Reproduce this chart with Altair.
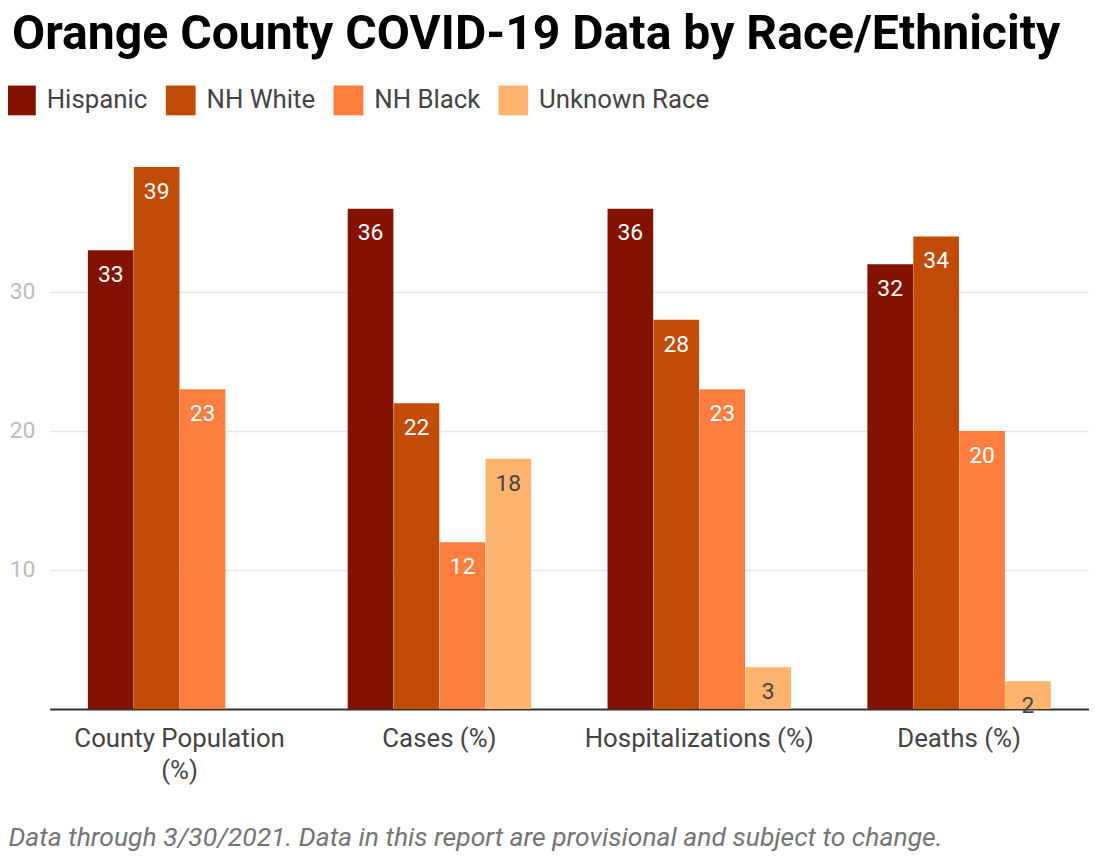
import altair as alt
import pandas as pd

categories = ["County Population (%)", "Cases (%)", "Hospitalizations (%)", "Deaths (%)"]
groups = ["Hispanic", "NH White", "NH Black", "Unknown Race"]
hispanic = [33, 36, 36, 32]
nh_white = [39, 22, 28, 34]
nh_black = [23, 12, 23, 20]
unknown = [None, 18, 3, 2]
colors = ["#841200", "#c24b07", "#fd7e3e", "#feb46e"]

title_text = "Orange County COVID-19 Data by Race/Ethnicity"
footer_text = "Data through 3/30/2021. Data in this report are provisional and subject to change."

rows = []
for series, vals in zip(groups, [hispanic, nh_white, nh_black, unknown]):
    for cat, v in zip(categories, vals):
        if v is not None:
            rows.append({"category": cat, "group": series, "value": v})
df = pd.DataFrame(rows)

x_enc = alt.X(
    "category:N",
    sort=categories,
    scale=alt.Scale(paddingInner=0.293, paddingOuter=0.1465),
    axis=alt.Axis(
        title=footer_text,
        titleFont="Roboto",
        titleFontSize=26.7,
        titleFontStyle="italic",
        titleFontWeight="normal",
        titleColor="#757575",
        titleAnchor="start",
        titleAlign="left",
        titleBaseline="middle",
        titleX=-42,
        titleY=130,
        labelAngle=0,
        labelFont="Roboto",
        labelFontSize=26,
        labelColor="#444444",
        labelPadding=17,
        labelLineHeight=32,
        labelLimit=0,
        labelExpr="datum.label == 'County Population (%)' ? ['County Population', '(%)'] : datum.label",
        ticks=False,
        domainColor="#333333",
        domainWidth=2,
        grid=False,
    ),
)
xoff = alt.XOffset("group:N", sort=groups, scale=alt.Scale(domain=groups, paddingInner=0, paddingOuter=0))
y_enc = alt.Y(
    "value:Q",
    scale=alt.Scale(domain=[0, 40], nice=False),
    axis=alt.Axis(
        title=None,
        values=[10, 20, 30],
        labelFont="Roboto",
        labelFontSize=23,
        labelColor="#bdbdbd",
        labelPadding=15,
        domain=False,
        ticks=False,
        gridColor="#e8e8e8",
        gridWidth=1.5,
    ),
)

base = alt.Chart(df)

bars = base.mark_bar(size=46).encode(
    x=x_enc,
    xOffset=xoff,
    y=y_enc,
    color=alt.Color(
        "group:N",
        sort=groups,
        scale=alt.Scale(domain=groups, range=colors),
        legend=alt.Legend(
            title=None,
            orient="none",
            legendX=-44,
            legendY=-68,
            direction="horizontal",
            symbolType="square",
            symbolSize=900,
            symbolStrokeWidth=0,
            symbolOpacity=1,
            labelFont="Roboto",
            labelFontSize=26,
            labelColor="#444444",
            labelOffset=11,
            labelLimit=0,
            columnPadding=18,
            padding=0,
        ),
    ),
)

labels = base.mark_text(baseline="middle", dy=25, font="Roboto", fontSize=23).encode(
    x=alt.X("category:N", sort=categories),
    xOffset=alt.XOffset("group:N", sort=groups),
    y="value:Q",
    text="value:Q",
    color=alt.condition(
        alt.datum.group == "Unknown Race", alt.value("#444444"), alt.value("#ffffff")
    ),
)

chart = (
    alt.layer(bars, labels)
    .properties(
        width=1047,
        height=560,
        background="#ffffff",
        padding={"left": 42, "top": 143, "right": 0, "bottom": 142},
        autosize=alt.AutoSizeParams(type="none"),
        title=alt.TitleParams(
            text=title_text,
            anchor="start",
            frame="bounds",
            font="Roboto",
            fontSize=48.5,
            fontWeight="bold",
            color="#000000",
            offset=26,
            dx=6,
        ),
    )
    .configure_view(stroke="transparent", strokeWidth=0)
)

chart.save("out.html", embed_options={"renderer": "svg", "actions": False})
